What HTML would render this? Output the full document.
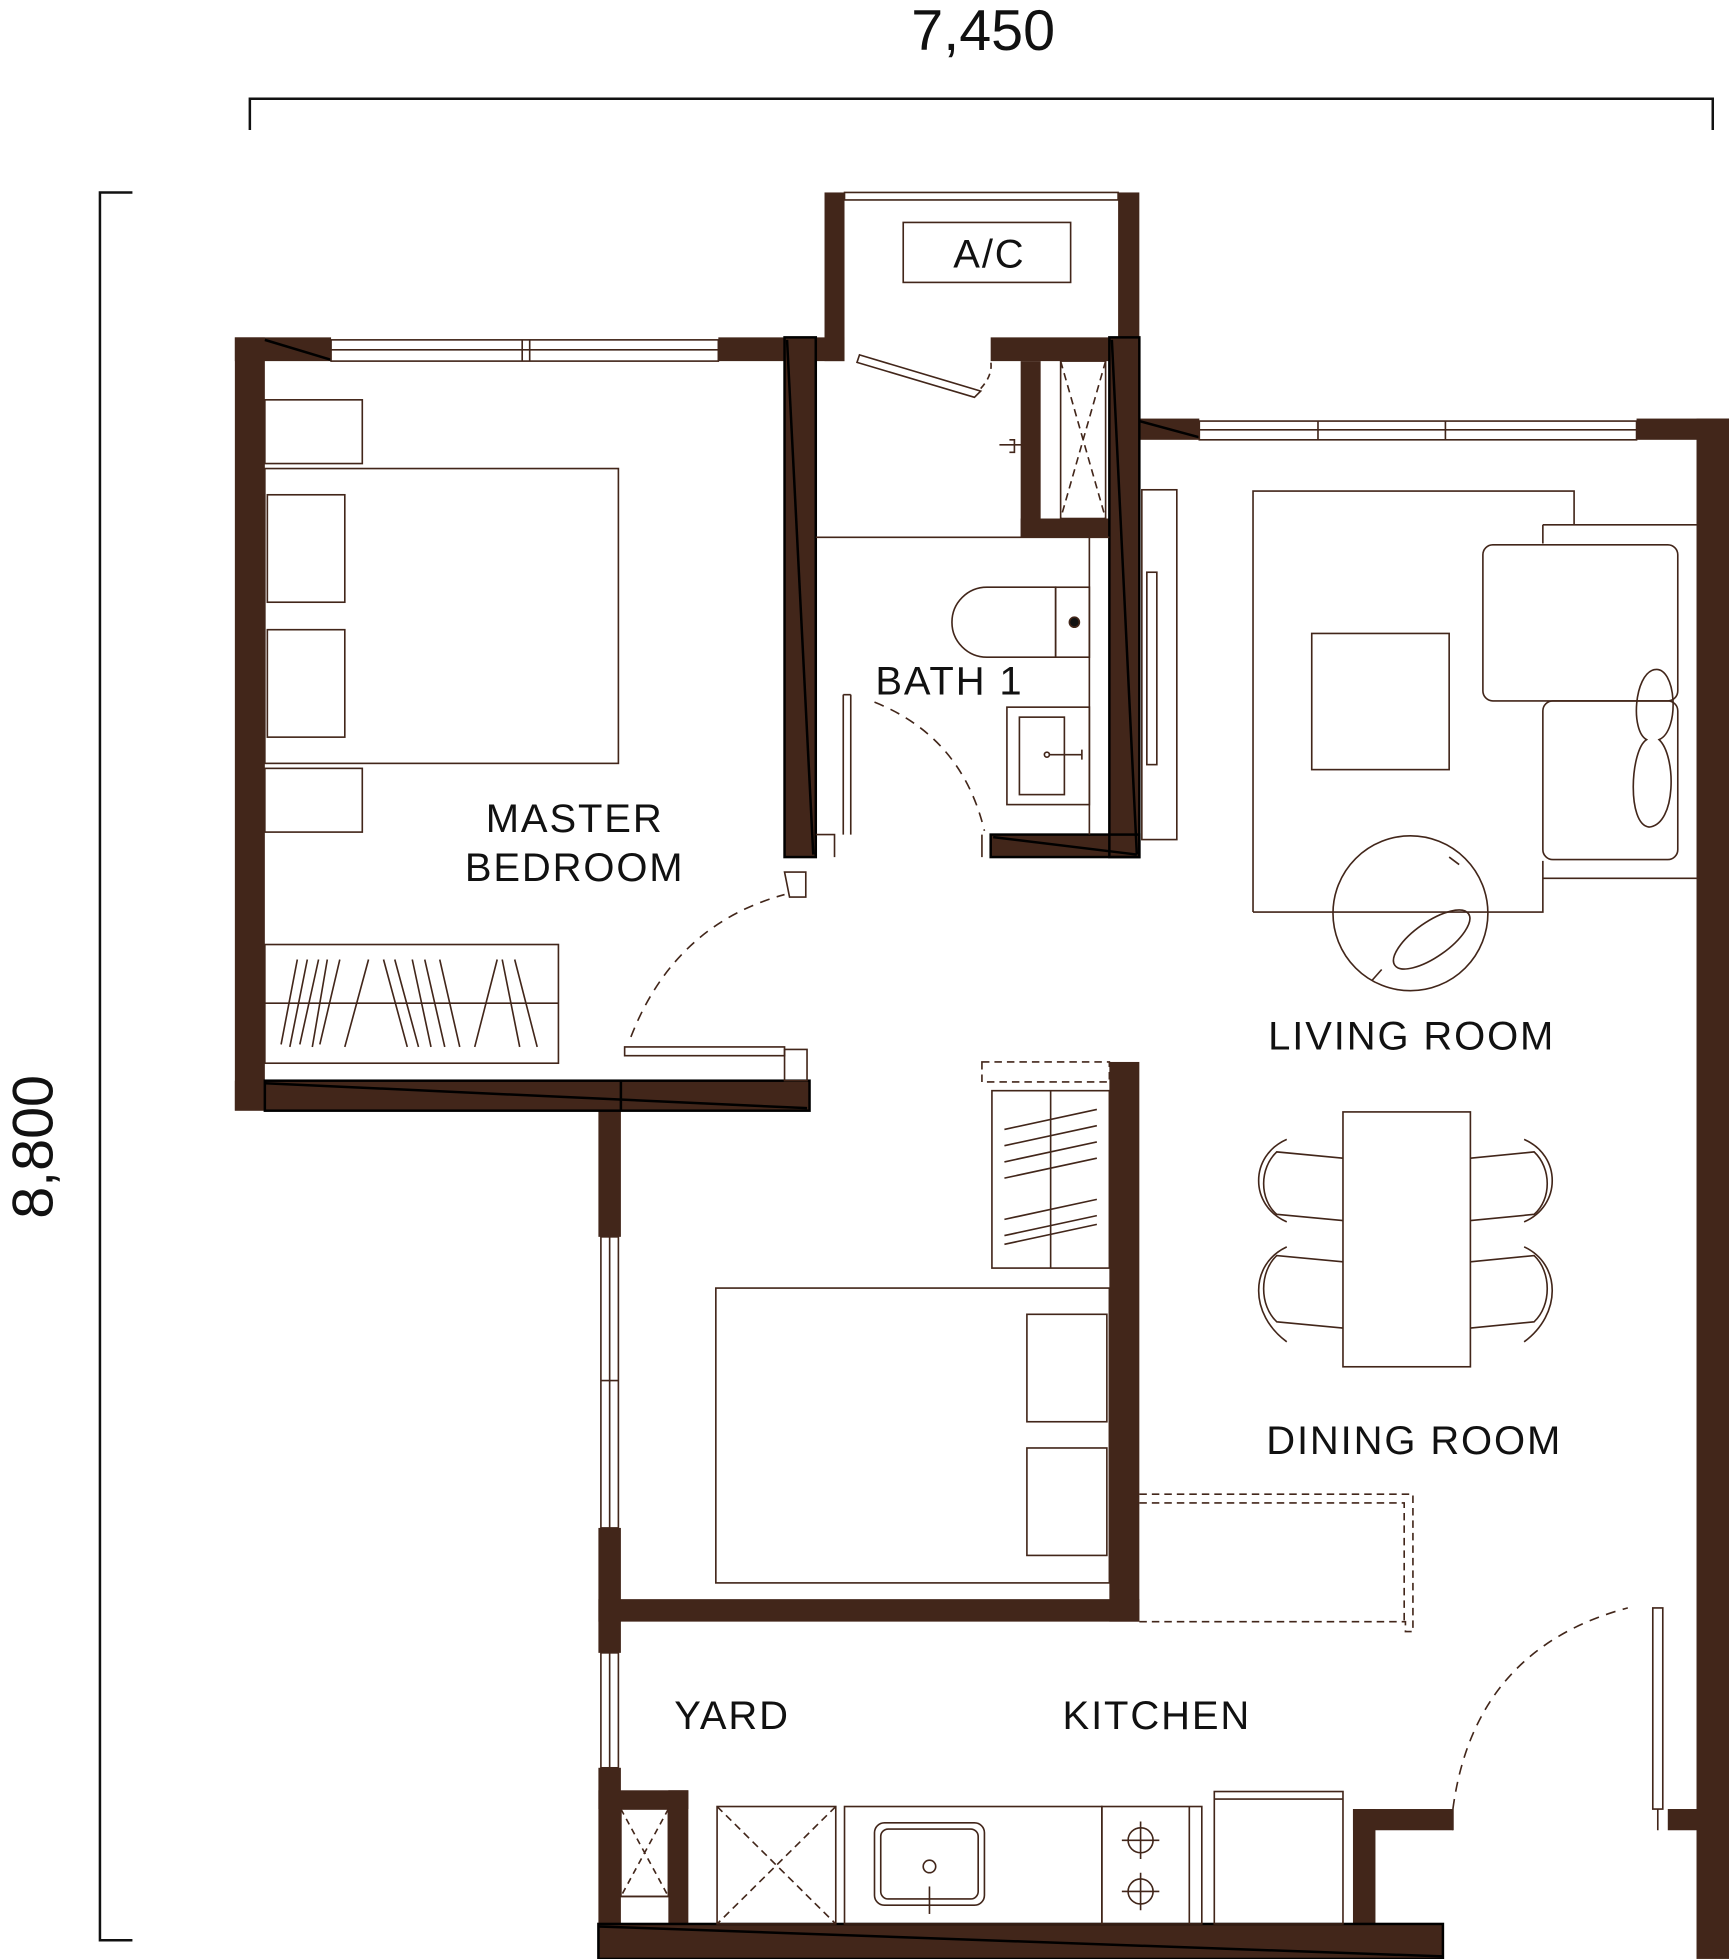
<!DOCTYPE html>
<html><head><meta charset="utf-8"><style>
html,body{margin:0;padding:0;background:#fff;}
svg{display:block;}
text{font-family:"Liberation Sans",sans-serif;fill:#111;}
</style></head><body>
<svg width="1729" height="1959" viewBox="0 0 1384 1568" xmlns="http://www.w3.org/2000/svg">
<g fill="none" stroke="#111" stroke-width="2">
<path d="M200 104 V79 H1371 V104"/>
<path d="M106 154 H80 V1553 H106"/>
</g>
<text x="787" y="40" font-size="46" text-anchor="middle">7,450</text>
<text transform="translate(42,918) rotate(-90)" font-size="46" text-anchor="middle">8,800</text>

<g fill="#42261a">
<rect x="188" y="270" width="24" height="619"/>
<rect x="188" y="270" width="77" height="19"/>
<rect x="575" y="270" width="53" height="19"/>
<rect x="628" y="270" width="25" height="416"/>
<rect x="660" y="154" width="16" height="135"/>
<rect x="895" y="154" width="17" height="135"/>
<rect x="653" y="270" width="23" height="19"/>
<rect x="793" y="270" width="102" height="19"/>
<rect x="888" y="270" width="24" height="416"/>
<rect x="817" y="289" width="16" height="141"/>
<rect x="817" y="415" width="71" height="15"/>
<rect x="793" y="668" width="119" height="18"/>
<rect x="188" y="865" width="460" height="24"/>
<rect x="479" y="889" width="18" height="101"/>
<rect x="479" y="1223" width="18" height="100"/>
<rect x="479" y="1415" width="18" height="153"/>
<rect x="888" y="850" width="24" height="448"/>
<rect x="479" y="1280" width="433" height="18"/>
<rect x="912" y="335" width="48" height="17"/>
<rect x="1310" y="335" width="74" height="17"/>
<rect x="1358" y="335" width="26" height="1113"/>
<rect x="1358" y="1448" width="26" height="120"/>
<rect x="1335" y="1448" width="49" height="17"/>
<rect x="1083" y="1448" width="18" height="120"/>
<rect x="1083" y="1448" width="80" height="17"/>
<rect x="479" y="1540" width="676" height="28"/>
<rect x="535" y="1433" width="16" height="107"/>
<rect x="479" y="1433" width="72" height="15"/>
</g>
<g fill="none" stroke="#000" stroke-width="2">
<rect x="628" y="270" width="25" height="416"/><path d="M630 272 L651 684"/>
<rect x="888" y="270" width="24" height="416"/><path d="M890 272 L910 684"/>
<rect x="212" y="865" width="436" height="24"/><path d="M212 867 L646 887"/>
<path d="M497 865 V889"/><rect x="793" y="668" width="119" height="18"/><path d="M795 670 L910 684"/>
<path d="M212 272 L265 288"/><path d="M912 337 L960 350"/>
<path d="M479 1542 L1155 1566"/><rect x="479" y="1540" width="676" height="28"/>
</g>

<g fill="none" stroke="#42261a" stroke-width="1.3">
<rect x="265" y="272" width="310" height="17"/><path d="M265 280 H575 M418 272 V289 M424 272 V289"/>
<rect x="960" y="337" width="350" height="15"/><path d="M960 344 H1310 M1055 337 V352 M1157 337 V352"/>
<rect x="676" y="154" width="219" height="6"/>
<rect x="481" y="990" width="14" height="233"/><path d="M488 990 V1223 M481 1105 H495"/>
<rect x="481" y="1323" width="14" height="92"/><path d="M488 1323 V1415"/>
<rect x="723" y="178" width="134" height="48"/>
<rect x="212" y="320" width="78" height="51"/>
<rect x="212" y="375" width="283" height="236"/>
<rect x="214" y="396" width="62" height="86"/>
<rect x="214" y="504" width="62" height="86"/>
<rect x="212" y="615" width="78" height="51"/>
<rect x="212" y="756" width="235" height="95"/>
<path d="M212 803 H447"/>
<path d="M225 836 L238 768 M232 838 L246 768 M240 836 L255 768 M250 838 L262 768 M256 836 L272 768 M276 838 L295 768 M307 768 L326 838 M316 768 L335 838 M330 768 L345 838 M340 768 L356 838 M352 768 L368 838 M380 838 L398 768 M402 768 L416 838 M412 768 L430 838"/>
<path d="M500 838 H628 V845 H500 Z"/>
<path d="M505 830 Q540 740 628 716" stroke-dasharray="8 6"/>
<path d="M628 698 H645 V718 H632 Z M628 840 H646 V865 H628 Z"/>
<path d="M688 284 L785 313 L780 318 L686 290 Z"/>
<path d="M785 311 Q795 300 793 289" stroke-dasharray="5 4"/>
<path d="M800 356 H818 M808 352 H812 V362 H808" />
<rect x="849" y="289" width="36" height="126"/><path d="M849 289 L885 415 M885 289 L849 415"  stroke-dasharray="6 4"/>
<path d="M653 430 H888 M872 430 V668"/>
<path d="M790 470 H845 V526 H790 A28 28 0 0 1 790 470 Z"/>
<rect x="845" y="470" width="27" height="56"/><circle cx="860" cy="498" r="4" fill="#111"/>
<rect x="806" y="566" width="66" height="78"/><rect x="816" y="574" width="36" height="62"/>
<path d="M840 604 H866 M866 600 V608"/><circle cx="838" cy="604" r="2"/>
<path d="M675 556 V668 M681 556 V668 M675 556 H681"/>
<path d="M700 562 Q770 590 788 665" stroke-dasharray="8 6"/>
<path d="M653 668 H668 V686 M786 668 V686"/>
<rect x="914" y="392" width="28" height="280"/>
<rect x="918" y="458" width="8" height="154"/>
<path d="M1003 730 V393 H1260 V420 M1235 689 V730 H1003"/>
<rect x="1050" y="507" width="110" height="109"/>
<path d="M1235 420 H1358 M1235 420 V435 M1235 703 H1358"/>
<rect x="1187" y="436" width="156" height="125" rx="8"/>
<rect x="1235" y="561" width="108" height="127" rx="8"/>
<path d="M1324 536 C1342 532 1345 585 1328 592 C1342 605 1342 660 1320 662 C1302 660 1305 600 1318 592 C1305 585 1308 540 1324 536 Z"/>
<circle cx="1129" cy="731" r="62"/>
<path d="M1098 785 L1106 776 M1160 686 L1168 692"/>
<ellipse cx="1146" cy="752" rx="36" ry="14" transform="rotate(-35 1146 752)"/>
<rect x="1075" y="890" width="102" height="204"/>
<path d="M1075 927 L1022 922 C1008 935 1008 960 1022 972 L1075 977"/>
<path d="M1030 912 C1000 925 1000 965 1030 978"/>
<path d="M1075 1010 L1022 1005 C1008 1018 1008 1045 1022 1058 L1075 1063"/>
<path d="M1030 998 C1000 1012 1000 1052 1030 1074"/>
<path d="M1177 927 L1228 922 C1242 935 1242 960 1228 972 L1177 977"/>
<path d="M1220 912 C1250 925 1250 965 1220 978"/>
<path d="M1177 1010 L1228 1005 C1242 1018 1242 1045 1228 1058 L1177 1063"/>
<path d="M1220 998 C1250 1012 1250 1052 1220 1074"/>
<path d="M786 850 H888 V866 H786 Z" stroke-dasharray="6 4"/>
<rect x="794" y="873" width="94" height="142"/><path d="M841 873 V1015"/>
<path d="M804 904 L878 888 M804 917 L878 901 M804 930 L878 914 M804 943 L878 927 M804 976 L878 960 M804 989 L878 973 M804 996 L878 980"/>
<rect x="573" y="1031" width="315" height="236"/>
<rect x="822" y="1052" width="64" height="86"/>
<rect x="822" y="1159" width="64" height="86"/>
<path d="M912 1196 H1131 V1306 H1125 V1298 H912" stroke-dasharray="6 4"/>
<path d="M912 1203 H1124 V1298" stroke-dasharray="6 4"/>
<path d="M1163 1448 Q1180 1320 1303 1287" stroke-dasharray="8 6"/>
<path d="M1323 1287 H1331 V1448 H1323 Z"/>
<path d="M1163 1448 V1465 M1327 1448 V1465"/>
<rect x="497" y="1448" width="38" height="70"/><path d="M497 1448 L535 1518 M535 1448 L497 1518" stroke-dasharray="5 4"/>
<path d="M497 1518 H535"/>
<rect x="574" y="1446" width="95" height="94"/><path d="M574 1446 L669 1540 M669 1446 L574 1540" stroke-dasharray="6 4"/>
<rect x="676" y="1446" width="206" height="94"/>
<rect x="700" y="1459" width="88" height="66" rx="8"/><rect x="705" y="1464" width="78" height="56" rx="6"/>
<circle cx="744" cy="1494" r="5"/><path d="M744 1510 V1532"/>
<rect x="882" y="1446" width="80" height="94"/><path d="M952 1446 V1540"/>
<circle cx="913" cy="1473" r="10"/><circle cx="913" cy="1514" r="10"/>
<path d="M898 1473 H928 M913 1458 V1488 M898 1514 H928 M913 1499 V1529"/>
<rect x="972" y="1434" width="103" height="106"/><path d="M972 1440 H1075"/>
</g>

<g font-size="32" text-anchor="middle" letter-spacing="1.5">
<text x="792" y="214">A/C</text>
<text x="460" y="666">MASTER</text>
<text x="460" y="705">BEDROOM</text>
<text x="760" y="556">BATH 1</text>
<text x="1130" y="840">LIVING ROOM</text>
<text x="1132" y="1164">DINING ROOM</text>
<text x="586" y="1384">YARD</text>
<text x="926" y="1384">KITCHEN</text>
</g>
</svg>
</body></html>
